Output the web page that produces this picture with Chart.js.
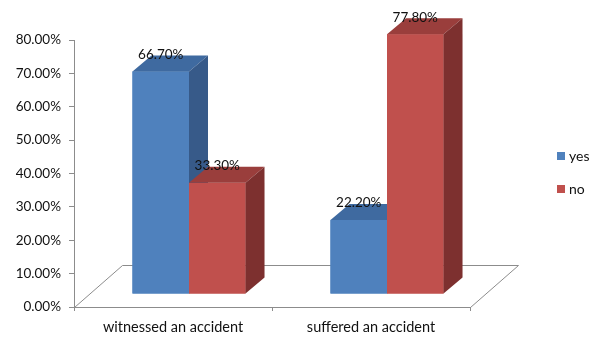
<!DOCTYPE html>
<html>
<head>
<meta charset="utf-8">
<script src="https://cdn.jsdelivr.net/npm/chart.js@4"></script>
<style>
  html, body { margin: 0; padding: 0; background: #ffffff; }
  #wrap { width: 596px; height: 340px; position: relative; }
</style>
</head>
<body>
<div id="wrap"><canvas id="c" width="596" height="340"></canvas></div>
<script>
// Survey answers, in percent
const categories = ['witnessed an accident', 'suffered an accident'];
const seriesNames = ['yes', 'no'];
const yesValues = [66.7, 22.2];
const noValues = [33.3, 77.8];
const yTicks = [0, 10, 20, 30, 40, 50, 60, 70, 80];

const FONT = 'Lato, "Open Sans", sans-serif';
const TEXT = '#111111';
const AXIS = '#8c8c8c';

// face colours: front, top, side
const faces = [
  { front: '#4f81bd', top: '#3f6aa0', side: '#375a89' },
  { front: '#c0504d', top: '#9a3e3c', side: '#7d302f' }
];

// perspective settings for the floor and boxes
const FLOOR_DX = 48, FLOOR_DY = -42;   // full floor depth
const BAR_DX = 16, BAR_DY = -13;       // boxes sit a third of the way back
const BOX_DX = 19, BOX_DY = -16;       // depth of each box

const fmt = v => v.toFixed(2) + '%';

const floorPlugin = {
  id: 'floor3d',
  beforeDatasetsDraw(chart) {
    const { ctx, chartArea: a } = chart;
    ctx.save();
    ctx.strokeStyle = AXIS;
    ctx.lineWidth = 1;
    ctx.beginPath();
    ctx.moveTo(a.left + 0.5, a.bottom + 0.5);
    ctx.lineTo(a.left + FLOOR_DX + 0.5, a.bottom + FLOOR_DY + 0.5);
    ctx.lineTo(a.right + FLOOR_DX + 0.5, a.bottom + FLOOR_DY + 0.5);
    ctx.lineTo(a.right + 0.5, a.bottom + 0.5);
    ctx.stroke();
    ctx.restore();
    // shift the boxes back into the floor
    ctx.save();
    ctx.translate(BAR_DX, BAR_DY);
  },
  afterDatasetsDraw(chart) {
    const { ctx } = chart;
    chart.data.datasets.forEach((ds, di) => {
      const meta = chart.getDatasetMeta(di);
      const f = faces[di];
      meta.data.forEach(bar => {
        const l = bar.x - bar.width / 2, r = bar.x + bar.width / 2;
        const t = bar.y, b = bar.base;
        ctx.fillStyle = f.front;
        ctx.fillRect(l, t, r - l, b - t);
        ctx.fillStyle = f.top;
        ctx.beginPath();
        ctx.moveTo(l, t);
        ctx.lineTo(l + BOX_DX, t + BOX_DY);
        ctx.lineTo(r + BOX_DX, t + BOX_DY);
        ctx.lineTo(r, t);
        ctx.closePath();
        ctx.fill();
        ctx.fillStyle = f.side;
        ctx.beginPath();
        ctx.moveTo(r, t);
        ctx.lineTo(r + BOX_DX, t + BOX_DY);
        ctx.lineTo(r + BOX_DX, b + BOX_DY);
        ctx.lineTo(r, b);
        ctx.closePath();
        ctx.fill();
      });
    });
    // value labels above each box
    ctx.font = '13.5px ' + FONT;
    ctx.fillStyle = TEXT;
    ctx.textAlign = 'center';
    ctx.textBaseline = 'middle';
    chart.data.datasets.forEach((ds, di) => {
      chart.getDatasetMeta(di).data.forEach((bar, i) => {
        ctx.fillText(fmt(ds.data[i]), bar.x, bar.y - 17);
      });
    });
    ctx.restore();
  },
  afterDraw(chart) {
    // legend
    const { ctx } = chart;
    ctx.save();
    ctx.font = '14px ' + FONT;
    ctx.textBaseline = 'middle';
    ctx.textAlign = 'left';
    chart.data.datasets.forEach((ds, di) => {
      const y = 156 + di * 33;
      ctx.fillStyle = ds.backgroundColor;
      ctx.fillRect(557, y - 4, 8, 8);
      ctx.fillStyle = TEXT;
      ctx.fillText(ds.label, 569, y);
    });
    ctx.restore();
  }
};

new Chart(document.getElementById('c'), {
  type: 'bar',
  data: {
    labels: categories,
    datasets: [
      { label: seriesNames[0], data: yesValues, backgroundColor: faces[0].front },
      { label: seriesNames[1], data: noValues, backgroundColor: faces[1].front }
    ]
  },
  options: {
    responsive: false,
    animation: false,
    devicePixelRatio: 1,
    categoryPercentage: 0.571,
    barPercentage: 1,
    layout: { padding: { top: 40, right: 126, bottom: 0, left: 0 } },
    plugins: { legend: { display: false }, tooltip: { enabled: false } },
    scales: {
      x: {
        offset: true,
        grid: { offset: true, drawOnChartArea: false, drawTicks: true, tickLength: 4, color: AXIS },
        border: { display: true, color: AXIS },
        ticks: { color: TEXT, font: { family: FONT, size: 14.5 }, padding: 8, maxRotation: 0 },
        afterFit(scale) { scale.height = 33; }
      },
      y: {
        min: 0,
        max: 80,
        afterBuildTicks(scale) { scale.ticks = yTicks.map(v => ({ value: v })); },
        grid: { drawOnChartArea: false, drawTicks: true, tickLength: 5, color: AXIS },
        border: { display: true, color: AXIS },
        ticks: { color: TEXT, font: { family: FONT, size: 13.5 }, padding: 8, callback: v => fmt(v) },
        afterFit(scale) { scale.width = 74; }
      }
    }
  },
  plugins: [floorPlugin]
});
</script>
</body>
</html>
